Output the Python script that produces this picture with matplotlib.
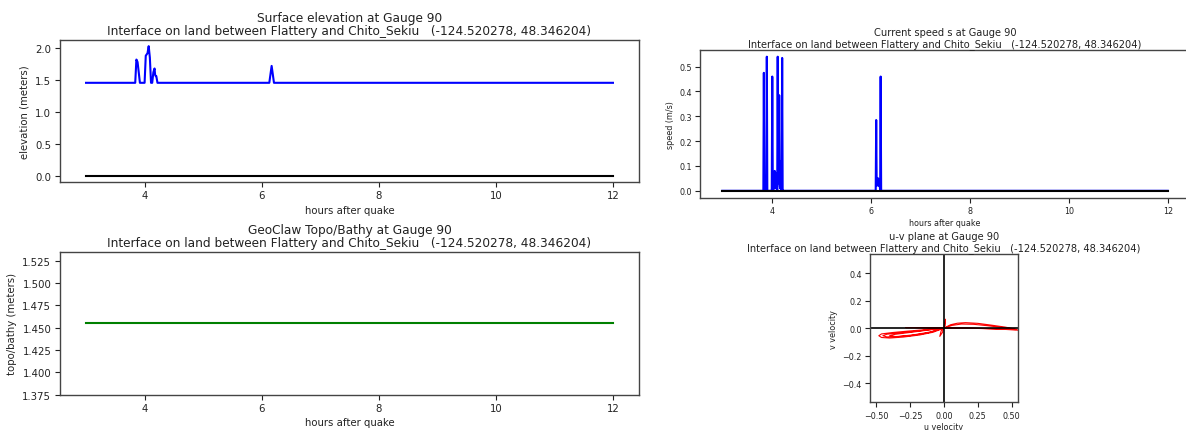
import matplotlib
matplotlib.use("Agg")
import matplotlib.pyplot as plt

# ---- gauge data -----------------------------------------------------------
gauge_no = 90
location = "Interface on land between Flattery and Chito_Sekiu   (-124.520278, 48.346204)"

# surface elevation (m) vs hours after quake
t_eta = [3.0, 3.84, 3.86, 3.88, 3.90, 3.92, 4.00, 4.02, 4.05, 4.07, 4.09, 4.11, 4.13,
         4.15, 4.17, 4.18, 4.19, 4.20, 4.22, 6.13, 6.17, 6.21, 12.0]
eta = [1.455, 1.455, 1.82, 1.78, 1.62, 1.455, 1.455, 1.88, 1.92, 2.03, 1.85, 1.455, 1.455,
       1.62, 1.68, 1.58, 1.56, 1.56, 1.455, 1.455, 1.72, 1.455, 1.455]
t_sea = [3.0, 12.0]
sea_level = [0.0, 0.0]

# current speed (m/s)
t_spd = [3.0, 3.83, 3.84, 3.85, 3.86, 3.87, 3.89, 3.90, 3.91, 3.99, 4.00, 4.01, 4.02,
         4.03, 4.04, 4.05, 4.06, 4.07, 4.08, 4.09, 4.10, 4.11, 4.12, 4.13, 4.14, 4.15,
         4.16, 4.17, 4.18, 4.19, 4.20, 4.21, 4.22, 4.23, 6.10, 6.11, 6.12, 6.13, 6.14,
         6.15, 6.16, 6.17, 6.18, 6.19, 6.20, 6.21, 12.0]
speed = [0.0, 0.0, 0.475, 0.0, 0.06, 0.0, 0.0, 0.54, 0.0, 0.0, 0.0, 0.46, 0.05,
         0.0, 0.07, 0.02, 0.08, 0.01, 0.06, 0.02, 0.07, 0.0, 0.54, 0.03, 0.10, 0.385,
         0.02, 0.01, 0.12, 0.02, 0.0, 0.535, 0.0, 0.0, 0.0, 0.285, 0.02, 0.05, 0.03,
         0.05, 0.02, 0.04, 0.03, 0.0, 0.46, 0.0, 0.0]
t_zero = [3.0, 12.0]
speed_zero = [0.0, 0.0]

# topography / bathymetry (m)
t_topo = [3.0, 12.0]
topo = [1.455, 1.455]

# velocity components (m/s) for the u-v hodograph
u_vel = [0.0, -0.08, -0.18, -0.30, -0.40, -0.46, -0.48, -0.46, -0.38, -0.27, -0.15, -0.06,
         0.0, -0.10, -0.22, -0.33, -0.42, -0.45, -0.42, -0.32, -0.20, -0.08,
         0.0, -0.12, -0.25, -0.35, -0.40, -0.36, -0.24, -0.10,
         0.0, -0.14, -0.28, -0.14, 0.0,
         -0.01, -0.03, -0.02, 0.0, 0.005, 0.012, 0.01, 0.0,
         0.05, 0.10, 0.16, 0.25, 0.35, 0.45, 0.52, 0.55, 0.50, 0.40, 0.28, 0.15, 0.05,
         0.0, 0.06, 0.13, 0.22, 0.32, 0.42, 0.50, 0.53, 0.45, 0.32, 0.18, 0.06, 0.0]
v_vel = [0.0, -0.030, -0.050, -0.065, -0.072, -0.068, -0.055, -0.042, -0.032, -0.022,
         -0.012, -0.004,
         0.0, -0.028, -0.048, -0.060, -0.064, -0.055, -0.044, -0.034, -0.022, -0.008,
         0.0, -0.035, -0.055, -0.062, -0.055, -0.045, -0.030, -0.012,
         0.0, 0.003, 0.004, 0.003, 0.0,
         -0.03, -0.06, -0.02, 0.0, 0.03, 0.065, 0.02, 0.0,
         0.025, 0.036, 0.040, 0.035, 0.022, 0.008, -0.005, -0.015, -0.012, -0.006,
         -0.002, 0.002, 0.001,
         0.0, 0.020, 0.030, 0.028, 0.018, 0.006, -0.004, -0.010, -0.008, -0.004, 0.0,
         0.002, 0.0]

# ---- figure ---------------------------------------------------------------
W, H = 1186, 431
fig = plt.figure(figsize=(W / 100, H / 100), dpi=100)


def px_axes(x0, y0, x1, y1):
    """Axes from pixel box (left, top, right, bottom)."""
    return fig.add_axes([x0 / W, (H - y1) / H, (x1 - x0) / W, (y1 - y0) / H])


spine_col = "#444444"
text_col = "#222222"


def style(ax, fs):
    for s in ax.spines.values():
        s.set_color(spine_col)
        s.set_linewidth(1.0)
    ax.tick_params(labelsize=fs, colors=text_col, length=3.5, width=0.8, pad=2.5)


# left column / right column font sizes
title_l, lab_l = 8.7, 7.3
title_r, lab_r = 7.1, 5.8

# surface elevation
ax1 = px_axes(59.7, 40.7, 639.3, 183.0)
ax1.plot(t_eta, eta, color="b", lw=1.5)
ax1.plot(t_sea, sea_level, color="k", lw=1.5)
ax1.set_title(f"Surface elevation at Gauge {gauge_no}\n{location}", fontsize=title_l,
              pad=4, linespacing=1.05, color=text_col)
ax1.set_xlabel("hours after quake", fontsize=lab_l, labelpad=3, color=text_col)
ax1.set_ylabel("elevation (meters)", fontsize=lab_l, labelpad=4, color=text_col)
ax1.set_xticks([4, 6, 8, 10, 12])
ax1.set_yticks([0.0, 0.5, 1.0, 1.5, 2.0])
style(ax1, lab_l)

# current speed
ax2 = px_axes(700, 51, 1190, 198.5)
ax2.plot(t_spd, speed, color="b", lw=1.5)
ax2.plot(t_zero, speed_zero, color="k", lw=1.5)
ax2.set_title(f"Current speed s at Gauge {gauge_no}\n{location}", fontsize=title_r,
              pad=3, linespacing=1.05, color=text_col)
ax2.set_xlabel("hours after quake", fontsize=lab_r, labelpad=2, color=text_col)
ax2.set_ylabel("speed (m/s)", fontsize=lab_r, labelpad=3, color=text_col)
ax2.set_xticks([4, 6, 8, 10, 12])
style(ax2, lab_r)

# topo / bathy
ax3 = px_axes(59.7, 252.7, 639.3, 395.7)
ax3.plot(t_topo, topo, color="g", lw=1.5)
ax3.set_ylim(topo[0] - 0.08, topo[0] + 0.08)
ax3.set_yticks([1.375, 1.400, 1.425, 1.450, 1.475, 1.500, 1.525])
ax3.set_xticks([4, 6, 8, 10, 12])
ax3.set_xlim(ax1.get_xlim())
ax3.set_title(f"GeoClaw Topo/Bathy at Gauge {gauge_no}\n{location}", fontsize=title_l,
              pad=4, linespacing=1.05, color=text_col)
ax3.set_xlabel("hours after quake", fontsize=lab_l, labelpad=3, color=text_col)
ax3.set_ylabel("topo/bathy (meters)", fontsize=lab_l, labelpad=4, color=text_col)
style(ax3, lab_l)

# u-v plane
ax4 = px_axes(870, 255, 1017.7, 403.3)
ax4.plot(u_vel, v_vel, color="r", lw=0.8)
ax4.axhline(0, color="k", lw=1.2)
ax4.axvline(0, color="k", lw=1.2)
ax4.set_xlim(-0.545, 0.545)
ax4.set_ylim(-0.54, 0.54)
ax4.set_xticks([-0.5, -0.25, 0.0, 0.25, 0.5])
ax4.set_yticks([-0.4, -0.2, 0.0, 0.2, 0.4])
ax4.set_title(f"u-v plane at Gauge {gauge_no}\n{location}", fontsize=title_r,
              pad=3, linespacing=1.05, color=text_col)
ax4.set_xlabel("u velocity", fontsize=lab_r, labelpad=2, color=text_col)
ax4.set_ylabel("v velocity", fontsize=lab_r, labelpad=3, color=text_col)
style(ax4, lab_r)

fig.savefig("out.png", dpi=100)
